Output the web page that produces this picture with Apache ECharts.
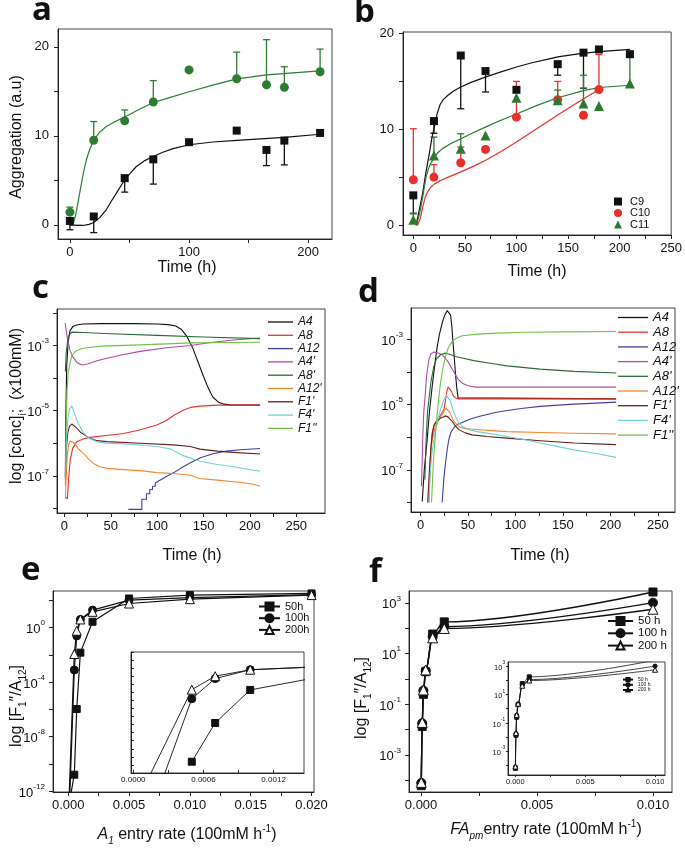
<!DOCTYPE html>
<html><head><meta charset="utf-8">
<script src="https://cdn.jsdelivr.net/npm/echarts@6.0.0/dist/echarts.min.js"></script>
<style>html,body{margin:0;padding:0;background:#fff}#c{width:685px;height:850px}</style>
</head><body><div id="c"></div><script>
// ---------------- DATA ----------------
// Panel a
const aTime = [0, 20, 46, 70, 100, 140, 165, 180, 210];
const aGreen = [1.42, 9.5, 11.68, 13.8, 17.4, 16.41, 15.74, 15.44, 17.2];
const aGreenErr = [1.98, 11.6, 12.9, 16.2, null, 19.4, 20.8, 17.76, 19.74];
const aBlack = [0.43, 0.93, 5.24, 7.35, 9.28, 10.58, 8.41, 9.46, 10.32];
const aBlackErr = [-0.56, -0.88, 3.67, 4.57, null, null, 6.65, 6.73, null];
const aGreenFit = [[2.5,0],[5,1.2],[8.2,3.56],[11,5.6],[13.8,7.3],[17,8.6],[20,9.5],[25,10.4],[30.5,11.05],[38,11.6],[46,12.1],[58,12.95],[70,13.74],[85,14.35],[100,14.95],[120,15.7],[140,16.4],[165,16.85],[190,17.1],[210,17.3]];
const aBlackFit = [[0,-0.05],[11,-0.08],[16,0.05],[20,0.26],[25,0.8],[30.5,1.68],[35,2.7],[39,3.56],[46,5.06],[50,5.7],[55.8,6.55],[62,7.15],[69.8,7.67],[78,8.15],[86.6,8.55],[100,8.99],[120,9.3],[140,9.48],[160,9.65],[180,9.83],[210,10.17]];
// Panel b
const bTime = [0, 20, 46, 70, 100, 140, 165, 180, 210];
const bC9 = [3.13, 10.87, 17.7, 16.08, 14.13, 16.8, 18.0, 18.33, 17.84];
const bC9Err = [1.22, 9.6, 12.15, 13.9, null, 15.65, 14.3, null, null];
const bC10 = [4.76, 5.03, 6.53, 7.92, 11.28, 13.1, 11.48, 14.15, null];
const bC10Err = [10.07, 6.32, 8.16, null, 15.0, 15.0, null, 17.8, null];
const bC11 = [0.59, 7.29, 7.99, 9.375, 13.3, 13.04, 12.7, 12.45, 14.78];
const bC11Err = [1.28, 9.2, 9.55, null, null, 14.1, 15.65, null, 17.84];
const bC9Fit = [[2.5,0],[5,1.2],[9,3.3],[12,5.4],[15.5,7.47],[18,9.1],[20.4,10.24],[23,11.6],[26,12.6],[29,13.1],[33.3,13.54],[39,14.0],[45.6,14.4],[56,14.9],[69.8,15.45],[85,16.0],[100,16.5],[115,16.95],[131.9,17.35],[140,17.56],[160,17.88],[180,18.1],[210,18.33]];
const bC10Fit = [[4,0],[7,0.8],[9,1.9],[11.5,2.9],[13.9,3.5],[17,4.0],[20.4,4.3],[26,4.65],[33.3,5.0],[45.6,5.55],[57,6.1],[69.8,6.77],[85,7.7],[100,8.68],[120,10.1],[140,11.5],[160,12.85],[180,14.15]];
const bC11Fit = [[3,0],[6,1.2],[9,2.9],[12.3,5.03],[16,6.3],[20.4,7.1],[24,7.6],[28.4,8.0],[36,8.5],[45.6,9.0],[57,9.6],[69.8,10.24],[85,10.95],[100,11.6],[120,12.5],[140,13.3],[165,14.05],[180,14.37],[210,14.6]];
// Panel c (log10 of concentration)
const cA4 = [[1,-7.0],[1.5,-5.2],[2.5,-3.6],[4,-2.9],[6,-2.55],[9,-2.42],[13,-2.37],[20,-2.34],[40,-2.33],[75,-2.33],[100,-2.34],[112,-2.36],[120,-2.4],[126,-2.5],[132,-2.72],[138,-3.05],[144,-3.5],[150,-3.95],[155,-4.3],[160,-4.58],[166,-4.74],[172,-4.8],[180,-4.83],[211,-4.83]];
const cA8 = [[1,-7.65],[2,-7.7],[3.2,-7.7],[4.5,-7.1],[6.2,-6.52],[9,-6.15],[13.4,-5.95],[20,-5.87],[27.7,-5.82],[45,-5.76],[63.7,-5.7],[80,-5.6],[99.7,-5.44],[110,-5.3],[117.7,-5.15],[128,-4.99],[136,-4.9],[146,-4.86],[165,-4.83],[211,-4.83]];
const cA12 = [[69,-8.03],[83.5,-8.03],[83.5,-7.72],[88.5,-7.72],[88.5,-7.55],[92,-7.55],[92,-7.42],[95,-7.42],[95,-7.32],[98,-7.32],[98,-7.22],[102,-7.15],[110,-7.02],[118,-6.9],[128,-6.72],[136,-6.6],[146,-6.45],[160,-6.32],[175,-6.24],[190,-6.2],[211,-6.16]];
const cA4p = [[0.8,-2.31],[3,-2.75],[6,-3.15],[9,-3.35],[13.4,-3.52],[18.8,-3.6],[25,-3.57],[35,-3.47],[45.8,-3.39],[60,-3.3],[81.7,-3.18],[110,-3.07],[135.7,-3.0],[160,-2.9],[182,-2.83],[211,-2.77]];
const cA8p = [[1,-3.8],[2,-3.2],[3.5,-2.85],[5,-2.68],[8,-2.59],[20,-2.6],[50,-2.64],[100,-2.69],[150,-2.74],[211,-2.79]];
const cA12p = [[1,-7.7],[2,-7.0],[3,-6.4],[4.5,-6.05],[6,-5.93],[8,-5.9],[11,-6.0],[15,-6.17],[20.5,-6.31],[26,-6.48],[31.3,-6.62],[38,-6.72],[45.8,-6.77],[60,-6.8],[81.7,-6.84],[100,-6.9],[117.7,-6.93],[135.7,-6.98],[146,-7.08],[165,-7.13],[182,-7.18],[195,-7.22],[204,-7.26],[211,-7.32]];
const cF1p = [[1,-7.1],[2,-6.2],[3.5,-5.7],[5.5,-5.48],[8,-5.41],[12,-5.5],[18,-5.68],[27.7,-5.85],[35,-5.92],[45.8,-5.95],[81.7,-6.0],[117.7,-6.05],[135.7,-6.1],[146,-6.18],[165,-6.24],[182,-6.28],[211,-6.33]];
const cF4p = [[1,-7.0],[2,-6.0],[3.5,-5.3],[5.5,-4.95],[8,-4.86],[11,-5.1],[15,-5.4],[20.5,-5.68],[27,-5.85],[35,-5.95],[45,-6.0],[63.7,-6.02],[85,-6.06],[99.7,-6.1],[115,-6.18],[128,-6.38],[146,-6.55],[165,-6.65],[182,-6.72],[211,-6.86]];
const cF1pp = [[1,-7.3],[1.8,-5.5],[2.8,-4.4],[4,-3.85],[6,-3.55],[8,-3.3],[12,-3.18],[18,-3.1],[24,-3.07],[40,-3.02],[81.7,-2.98],[110,-2.95],[135.7,-2.92],[180,-2.91],[211,-2.9]];
// Panel d (log10 of concentration)
const dA4 = [[1.8,-7.97],[4,-7.0],[7,-6.08],[9.5,-5.2],[12.3,-4.45],[15,-3.8],[17.6,-3.23],[20,-2.85],[22.8,-2.51],[25.5,-2.27],[28.1,-2.13],[30,-2.14],[31.6,-2.26],[33,-2.6],[34,-3.02],[35.5,-3.55],[36.8,-4.04],[38.2,-4.5],[39.6,-4.8],[41,-4.83],[206,-4.83]];
const dA8 = [[8.8,-8.0],[10,-7.0],[11,-6.4],[12.3,-5.87],[14.5,-5.6],[17.6,-5.47],[21,-5.33],[24.6,-5.16],[26.5,-4.85],[28,-4.57],[29.1,-4.47],[30.5,-4.5],[32.6,-4.6],[34.5,-4.73],[36.8,-4.8],[40,-4.83],[206,-4.83]];
const dA12 = [[22.8,-8.0],[24.5,-7.3],[26.3,-6.8],[28,-6.4],[29.8,-6.08],[32,-5.85],[35,-5.72],[38,-5.62],[43.9,-5.55],[52,-5.45],[61.4,-5.37],[80,-5.24],[96.5,-5.16],[110.5,-5.11],[126,-5.06],[145,-5.02],[161.5,-4.99],[185,-4.96],[206,-4.93]];
const dA4p = [[1.05,-7.5],[2.5,-5.9],[3.5,-5.2],[4.6,-4.86],[6.5,-4.1],[8.8,-3.63],[11,-3.45],[14,-3.4],[18,-3.42],[22.8,-3.48],[26,-3.58],[29.8,-3.73],[33,-3.9],[36.8,-4.09],[40,-4.24],[43.9,-4.35],[50,-4.43],[57.9,-4.47],[206,-4.47]];
const dA8p = [[4.6,-7.3],[6,-6.0],[7.5,-5.2],[8.8,-4.86],[11,-4.3],[14,-3.84],[17,-3.6],[21,-3.48],[26.3,-3.43],[32,-3.48],[38,-3.54],[43.9,-3.58],[56,-3.66],[75,-3.75],[91,-3.82],[126,-3.92],[161.5,-3.99],[206,-4.04]];
const dA12p = [[7.7,-8.0],[9.5,-7.0],[10.7,-6.5],[12.3,-6.08],[15,-5.75],[19.3,-5.47],[23,-5.3],[27,-5.11],[29,-5.12],[31,-5.25],[33.4,-5.42],[36,-5.55],[40.4,-5.68],[47,-5.74],[56,-5.76],[75,-5.8],[91,-5.83],[126,-5.86],[161.5,-5.88],[206,-5.9]];
const dF1p = [[7.7,-8.0],[9.5,-7.0],[11,-6.3],[12.5,-5.9],[14,-5.67],[17,-5.52],[21,-5.42],[26.3,-5.35],[29,-5.38],[31,-5.45],[33.4,-5.52],[36,-5.63],[40.4,-5.77],[47,-5.87],[54.4,-5.93],[70,-5.98],[91,-6.03],[126,-6.11],[161.5,-6.18],[206,-6.23]];
const dF4p = [[8.8,-8.0],[10.5,-7.0],[12,-6.5],[14,-6.08],[17,-5.6],[21,-5.16],[24,-4.9],[27.4,-4.72],[29,-4.73],[31.6,-4.91],[34,-5.15],[36.8,-5.37],[40,-5.55],[43.9,-5.67],[52,-5.78],[61.4,-5.84],[75,-5.9],[91,-5.98],[110,-6.08],[126,-6.18],[145,-6.29],[161.5,-6.39],[185,-6.5],[206,-6.62]];
const dF1pp = [[11.6,-8.0],[13.5,-6.8],[15.8,-5.87],[18.5,-5.0],[21,-4.35],[23.5,-3.9],[26.3,-3.53],[29.5,-3.25],[33.4,-3.07],[38,-2.97],[43.9,-2.9],[60,-2.85],[79,-2.82],[110.5,-2.79],[150,-2.78],[206,-2.77]];
const concNames = ['A4','A8','A12',"A4'","A8'","A12'","F1'","F4'","F1''"];
const concColors = ['#111111','#e2342b','#3f3f9c','#b24aa6','#2e6a37','#f4862e','#6a1d1d','#72d0d6','#72c146'];
// Panel e (log10 of ratio)
const e50 = [[0.0002,-12.3],[0.0005,-10.8],[0.0007,-5.97],[0.001,-1.83],[0.002,0.44],[0.005,2.15],[0.01,2.4],[0.02,2.52]];
const e100 = [[0.0001,-13],[0.0005,-3.1],[0.0007,-0.6],[0.001,0.61],[0.002,1.3],[0.005,2.03],[0.01,2.22],[0.02,2.44]];
const e200 = [[0.00005,-13],[0.0005,-1.93],[0.0007,-0.22],[0.001,0.61],[0.002,1.17],[0.005,1.78],[0.01,2.1],[0.02,2.4]];
const eIn50 = [[0.0005,1.4],[0.0007,6.2],[0.001,10.3],[0.002,13.0]];
const eIn100 = [[0.0002,-2.8],[0.0005,9.2],[0.0007,11.7],[0.001,12.8],[0.002,13.43]];
const eIn200 = [[0.0001,-1.5],[0.0005,10.33],[0.0007,12.0],[0.001,12.8],[0.002,13.43]];
// Panel f (log10 of ratio)
const fRate = [0.00001, 0.00005, 0.0001, 0.0002, 0.0005, 0.001, 0.01];
const f50 = [-4.22, -1.88, -0.61, 0.28, 1.77, 2.25, 3.43];
const f100 = [-4.11, -1.75, -0.46, 0.31, 1.66, 2.06, 3.01];
const f200 = [-4.09, -1.72, -0.44, 0.35, 1.62, 1.99, 2.75];

// ---------------- CHART ----------------
const FONT = 'Liberation Sans';
const chart = echarts.init(document.getElementById('c'));

const gridBoxes = [
  [58, 29, 274, 210], [403, 32, 269, 203],
  [57, 309, 268, 204], [411, 308, 264, 204],
  [53, 591, 261, 201], [131, 652, 173, 121],
  [409, 591, 263, 201], [508, 662, 157, 113]
];
const grids = gridBoxes.map(g => ({left:g[0], top:g[1], width:g[2], height:g[3], show:true,
  borderColor:'#444', borderWidth:1, backgroundColor:'#fff'}));

function sciFmt(v){ const r = Math.round(v); return '{b|10}{s|' + r + '}'; }
function sciRich(fs){ const s = Math.round(fs*0.62*10)/10; return {
  b:{fontSize:fs, fontFamily:FONT, color:'#111', verticalAlign:'bottom', lineHeight:fs+4},
  s:{fontSize:s, fontFamily:FONT, color:'#111', verticalAlign:'top', lineHeight:s+1} }; }

function mkAxis(dim, gi, min, max, ticks, labels, fmt, o) {
  o = o || {};
  return {
    type:'value', gridIndex:gi, min:min, max:max, position: dim==='x' ? 'bottom' : 'left',
    axisLine:{show:true, onZero:false, lineStyle:{color:'#222', width:1}},
    axisTick:{show:true, inside:!!o.inside, length:o.tickLen||4, customValues:ticks, lineStyle:{color:'#222', width:1}},
    axisLabel:{show:labels.length>0, customValues:labels, formatter:fmt, fontSize:o.fs||13, fontFamily:FONT,
      color:'#111', margin:o.margin!=null?o.margin:7, rich:o.rich},
    splitLine:{show:false}, minorTick:{show:false}
  };
}
const intFmt = v => String(Math.round(v));
const rng = (a,b,s) => { const r=[]; for (let v=a; v<=b+1e-9; v+=s) r.push(Math.round(v*1e6)/1e6); return r; };

const xAxes = [
  mkAxis('x',0,-10,220,rng(0,200,50),[0,100,200],intFmt),
  mkAxis('x',1,-10,250,rng(0,250,25),rng(0,250,50),intFmt),
  mkAxis('x',2,-8,281,rng(0,250,25),rng(0,250,50),intFmt),
  mkAxis('x',3,-10,268,rng(0,250,25),rng(0,250,50),intFmt),
  mkAxis('x',4,-0.00125,0.0202,rng(0,0.02,0.0025),rng(0,0.02,0.005),v=>v.toFixed(3)),
  mkAxis('x',5,-0.00002,0.00146,[0,0.0003,0.0006,0.0009,0.0012],[0,0.0006,0.0012],v=>v.toFixed(4),{inside:true,tickLen:3,fs:8,margin:3}),
  mkAxis('x',6,-0.00052,0.01082,[0,0.0025,0.005,0.0075,0.01],[0,0.005,0.01],v=>v.toFixed(3)),
  mkAxis('x',7,-0.00052,0.01071,[0,0.0025,0.005,0.0075,0.01],[0,0.005,0.01],v=>v.toFixed(3),{tickLen:2,fs:7.5,margin:3})
];
const yAxes = [
  mkAxis('y',0,-1.6,22,rng(0,20,5),[0,10,20],intFmt,{margin:9}),
  mkAxis('y',1,-1,20.15,rng(0,20,5),[0,10,20],intFmt,{margin:9}),
  mkAxis('y',2,-8.14,-1.88,rng(-8,-2,1),[-7,-5,-3],sciFmt,{rich:sciRich(13),margin:8}),
  mkAxis('y',3,-8.29,-2.05,rng(-8,-3,1),[-7,-5,-3],sciFmt,{rich:sciRich(13),margin:8}),
  mkAxis('y',4,-12.07,2.7,rng(-12,2,2),[-12,-8,-4,0],sciFmt,{rich:sciRich(13),margin:8}),
  mkAxis('y',5,0,15,rng(0,15,1),[],null,{inside:true,tickLen:3}),
  mkAxis('y',6,-4.47,3.47,rng(-4,3,1),[-3,-1,1,3],sciFmt,{rich:sciRich(13),margin:8}),
  mkAxis('y',7,-4.69,3.3,rng(-4,3,1),[-3,-1,1,3],sciFmt,{rich:sciRich(7.5),tickLen:2,margin:3})
];

function pairs(xs, ys){ const r=[]; xs.forEach((x,i)=>{ if (ys[i]!=null) r.push([x, ys[i]]); }); return r; }
function fitLine(name, data, color, gi, w){
  return {type:'line', name:name, data:data, xAxisIndex:gi, yAxisIndex:gi, symbol:'none', smooth:false,
    clip:true, silent:true, z:2, color:color,
    lineStyle:{color:color, width:w||1.2, join:'round'}, itemStyle:{color:color}};
}
function errBars(xs, ys, es, color, gi){
  const data = [];
  xs.forEach((x,i)=>{ if (es[i]!=null && ys[i]!=null) data.push([x, ys[i], es[i]]); });
  return {type:'custom', xAxisIndex:gi, yAxisIndex:gi, data:data, silent:true, z:1, encode:{x:0, y:[1,2]},
    renderItem:(params, api)=>{
      const p0 = api.coord([api.value(0), api.value(1)]);
      const p1 = api.coord([api.value(0), api.value(2)]);
      const st = {stroke:color, lineWidth:1.3};
      return {type:'group', children:[
        {type:'line', shape:{x1:p0[0], y1:p0[1], x2:p1[0], y2:p1[1]}, style:st},
        {type:'line', shape:{x1:p1[0]-3.5, y1:p1[1], x2:p1[0]+3.5, y2:p1[1]}, style:st}
      ]};
    }};
}
function scat(name, xs, ys, symbol, size, color, gi){
  return {type:'scatter', name:name, data:pairs(xs, ys), xAxisIndex:gi, yAxisIndex:gi, symbol:symbol,
    symbolSize:size, silent:true, z:3, itemStyle:{color:color, opacity:1}};
}
function markLine(name, data, symbol, size, fill, gi, smooth, lw){
  return {type:'line', name:name, data:data, xAxisIndex:gi, yAxisIndex:gi, symbol:symbol, symbolSize:size,
    showSymbol:true, showAllSymbol:true, smooth:smooth||false, smoothMonotone:'x', clip:true, silent:true, z:3,
    lineStyle:{color:'#111', width:lw||1.2}, itemStyle:{color:fill, borderColor:'#111', borderWidth:1, opacity:1}};
}

const GREEN = '#2c7d31', BLACK = '#111111', RED = '#e8302a', BGREEN = '#2a7a30';
const series = [
  // a
  fitLine('a-green-fit', aGreenFit, GREEN, 0), fitLine('a-black-fit', aBlackFit, BLACK, 0),
  errBars(aTime, aGreen, aGreenErr, GREEN, 0), errBars(aTime, aBlack, aBlackErr, BLACK, 0),
  scat('a-green', aTime, aGreen, 'circle', 9, GREEN, 0), scat('a-black', aTime, aBlack, 'rect', 8, BLACK, 0),
  // b
  fitLine('C9 fit', bC9Fit, BLACK, 1), fitLine('C10 fit', bC10Fit, RED, 1), fitLine('C11 fit', bC11Fit, BGREEN, 1),
  errBars(bTime, bC9, bC9Err, BLACK, 1), errBars(bTime, bC10, bC10Err, RED, 1), errBars(bTime, bC11, bC11Err, BGREEN, 1),
  scat('C9', bTime, bC9, 'rect', 8, BLACK, 1), scat('C10', bTime, bC10, 'circle', 9, RED, 1),
  scat('C11', bTime, bC11, 'triangle', 10, BGREEN, 1)
];
[cA4,cA8,cA12,cA4p,cA8p,cA12p,cF1p,cF4p,cF1pp].forEach((d,i)=>{
  series.push(fitLine(concNames[i], d, concColors[i], 2, 1.1)); });
[dA4,dA8,dA12,dA4p,dA8p,dA12p,dF1p,dF4p,dF1pp].forEach((d,i)=>{
  series.push(fitLine(concNames[i], d, concColors[i], 3, 1.1)); });
series.push(
  markLine('50h', e50, 'rect', 7, '#111', 4), markLine('100h', e100, 'circle', 8, '#111', 4),
  markLine('200h', e200, 'triangle', 9, '#fff', 4),
  markLine('50h', eIn50, 'rect', 7, '#111', 5, false, 0.9), markLine('100h', eIn100, 'circle', 8, '#111', 5, false, 0.9),
  markLine('200h', eIn200, 'triangle', 9, '#fff', 5, false, 0.9),
  markLine('50 h', pairs(fRate, f50), 'rect', 8, '#111', 6, 0.35, 1.4), markLine('100 h', pairs(fRate, f100), 'circle', 9, '#111', 6, 0.35, 1.4),
  markLine('200 h', pairs(fRate, f200), 'triangle', 10, '#fff', 6, 0.35, 1.4),
  markLine('50 h', pairs(fRate, f50), 'rect', 4, '#111', 7, 0.35, 0.8), markLine('100 h', pairs(fRate, f100), 'circle', 4, '#111', 7, 0.35, 0.8),
  markLine('200 h', pairs(fRate, f200), 'triangle', 5, '#fff', 7, 0.35, 0.8)
);

const legBase = {orient:'vertical', selectedMode:false, padding:0, inactiveColor:'#111'};
const legends = [
  Object.assign({}, legBase, {data:['C9','C10','C11'], left:614, top:196, itemWidth:8, itemHeight:8, itemGap:0.5,
    textStyle:{fontSize:11, fontFamily:FONT, color:'#111', padding:[0,0,0,3]}}),
  Object.assign({}, legBase, {data:concNames.map(n=>({name:n, icon:'rect'})), left:268, top:316, itemWidth:25, itemHeight:1.3, itemGap:1.3,
    textStyle:{fontSize:12, fontStyle:'italic', fontFamily:FONT, color:'#111'}}),
  Object.assign({}, legBase, {data:concNames.map(n=>({name:n, icon:'rect'})), left:618, top:311, itemWidth:30, itemHeight:1.3, itemGap:1.7,
    textStyle:{fontSize:13, fontStyle:'italic', fontFamily:FONT, color:'#111'}}),
  Object.assign({}, legBase, {data:['50h','100h','200h'], left:258, top:601, itemWidth:21, itemHeight:10, itemGap:0.7,
    textStyle:{fontSize:11, fontFamily:FONT, color:'#111'}}),
  Object.assign({}, legBase, {data:['50 h','100 h','200 h'], left:607, top:615, itemWidth:25, itemHeight:10, itemGap:0.3,
    textStyle:{fontSize:11.5, fontFamily:FONT, color:'#111'}}),
  Object.assign({}, legBase, {data:['50 h','100 h','200 h'], left:622, top:677, itemWidth:10, itemHeight:4, itemGap:0,
    textStyle:{fontSize:5, fontFamily:FONT, color:'#111'}})
];

const TR = {
  n:{fontSize:16, fontFamily:FONT, color:'#111', lineHeight:22, verticalAlign:'middle'},
  it:{fontSize:16, fontFamily:FONT, fontStyle:'italic', color:'#111', lineHeight:22, verticalAlign:'middle'},
  sub:{fontSize:10, fontFamily:FONT, color:'#111', lineHeight:10, verticalAlign:'bottom'},
  subit:{fontSize:10, fontFamily:FONT, fontStyle:'italic', color:'#111', lineHeight:10, verticalAlign:'bottom'},
  sup:{fontSize:10, fontFamily:FONT, color:'#111', lineHeight:10, verticalAlign:'top'}
};
function title(x, y, text, rot){
  return {type:'text', x:x, y:y, rotation:rot||0, silent:true, z:10,
    style:{text:text, rich:TR, align:'center', verticalAlign:'middle', textAlign:'center', textVerticalAlign:'middle',
      fontSize:16, fontFamily:FONT, fill:'#111'}};
}
function letter(x, y, t){
  return {type:'text', x:x, y:y, silent:true, z:10,
    style:{text:t, align:'left', verticalAlign:'middle', textAlign:'left', textVerticalAlign:'middle',
      font:'bold 33px "Open Sans"', fontSize:33, fontWeight:'bold', fontFamily:'Open Sans', fill:'#111'}};
}
const R = Math.PI/2;
const graphics = [
  letter(32, 11, 'a'), letter(354, 13, 'b'), letter(32, 289, 'c'), letter(358, 293, 'd'),
  letter(21, 571, 'e'), letter(369, 573, 'f'),
  title(17, 137, '{n|Aggregation (a.u)}', R), title(187, 268, '{n|Time (h)}'),
  title(537, 272, '{n|Time (h)}'),
  title(17, 406, '{n|log [conc]}{sub|i}{n|;  (x100mM)}', R), title(192, 556, '{n|Time (h)}'),
  title(540, 556, '{n|Time (h)}'),
  title(17, 706, '{n|log [F}{sub|1}{n|\u2033/A}{sub|12}{n|]}', R),
  title(187, 835, '{it|A}{subit|1}{n| entry rate (100mM h}{sup|-1}{n|)}'),
  title(362, 698, '{n|log [F}{sub|1}{n|\u2033/A}{sub|12}{n|]}', R),
  title(546, 830, '{it|FA}{subit|pm}{n|entry rate (100mM h}{sup|-1}{n|)}')
];

chart.setOption({
  animation:false, backgroundColor:'#fff',
  grid:grids, xAxis:xAxes, yAxis:yAxes, series:series, legend:legends, graphic:graphics
});
</script></body></html>
